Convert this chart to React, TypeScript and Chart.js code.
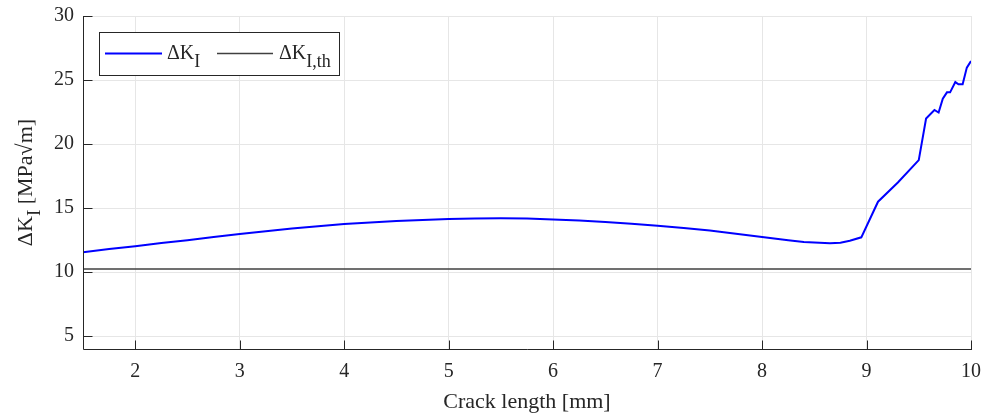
import React, { useEffect, useRef } from 'react';
import { Chart, registerables } from 'chart.js';

Chart.register(...registerables);

// ---- data ----
const crackLength = [
  1.5, 1.75, 2.0, 2.25, 2.5, 2.75, 3.0, 3.25, 3.5, 3.75, 4.0, 4.25, 4.5, 4.75, 5.0,
  5.25, 5.5, 5.75, 6.0, 6.25, 6.5, 6.75, 7.0, 7.25, 7.5, 7.75, 8.0, 8.25, 8.4, 8.55,
  8.65, 8.75, 8.84, 8.95, 9.11, 9.3, 9.5, 9.57, 9.65, 9.69, 9.73, 9.77, 9.8, 9.85,
  9.88, 9.92, 9.96, 10.0,
];
const deltaK = [
  11.56, 11.8, 12.03, 12.27, 12.5, 12.74, 12.98, 13.19, 13.4, 13.59, 13.76, 13.88, 13.99, 14.08, 14.15,
  14.19, 14.2, 14.18, 14.12, 14.03, 13.91, 13.78, 13.63, 13.45, 13.25, 13.0, 12.74, 12.49, 12.36, 12.29,
  12.26, 12.3, 12.45, 12.72, 15.5, 17.0, 18.75, 22.0, 22.66, 22.46, 23.55, 24.04, 24.04, 24.84,
  24.67, 24.67, 25.97, 26.48,
];
const thresholdLength = [1.5, 10];
const thresholdK = [10.25, 10.25];

const xTicks = [2, 3, 4, 5, 6, 7, 8, 9, 10];
const yTicks = [5, 10, 15, 20, 25, 30];
const xMin = 1.5;
const xMax = 10;
const yMin = 4;
const yMax = 30;

const xTitle = 'Crack length [mm]';
const yTitleMain = 'ΔK';
const yTitleSub = 'I';
const yTitleRest = ' [MPa√m]';
const legendMain = ['ΔK', 'ΔK'];
const legendSub = ['I', 'I,th'];

// ---- styles ----
const FONT = '"Liberation Serif", "Times New Roman", Times, serif';
const TEXT = '#262626';
const BLUE = '#0000ff';
const GRAY = '#404040';
const GRID = '#e6e6e6';

const matlabPlugin = {
  id: 'matlabDecor',
  afterDraw(chart: any) {
    const { ctx, chartArea: a, scales } = chart;
    const xs = scales.x;
    const ys = scales.y;
    ctx.save();

    // axis lines
    ctx.strokeStyle = TEXT;
    ctx.lineWidth = 1;
    ctx.beginPath();
    const L = Math.round(a.left) + 0.5;
    const B = Math.round(a.bottom) + 0.5;
    ctx.moveTo(L, Math.round(a.top));
    ctx.lineTo(L, B);
    ctx.lineTo(Math.round(a.right) + 1, B);
    ctx.stroke();

    // inward tick marks
    const tl = 9;
    ctx.beginPath();
    xTicks.forEach((v) => {
      const px = Math.round(xs.getPixelForValue(v)) + 0.5;
      ctx.moveTo(px, B);
      ctx.lineTo(px, B - tl);
    });
    yTicks.forEach((v) => {
      const py = Math.round(ys.getPixelForValue(v)) + 0.5;
      ctx.moveTo(L, py);
      ctx.lineTo(L + tl, py);
    });
    ctx.stroke();

    // legend
    const lx = 99, ly = 32, lw = 240, lh = 43;
    ctx.fillStyle = '#ffffff';
    ctx.fillRect(lx, ly, lw, lh);
    ctx.strokeStyle = TEXT;
    ctx.lineWidth = 1;
    ctx.strokeRect(lx + 0.5, ly + 0.5, lw, lh);

    const entries = [
      { x0: 105, x1: 162, tx: 167, color: BLUE, width: 2 },
      { x0: 217, x1: 273, tx: 279, color: GRAY, width: 1.5 },
    ];
    const lineY = 53.5;
    const baseY = 59;
    entries.forEach((e, i) => {
      ctx.strokeStyle = e.color;
      ctx.lineWidth = e.width;
      ctx.beginPath();
      ctx.moveTo(e.x0, lineY);
      ctx.lineTo(e.x1, lineY);
      ctx.stroke();
      ctx.fillStyle = TEXT;
      ctx.textAlign = 'left';
      ctx.textBaseline = 'alphabetic';
      ctx.font = `20px ${FONT}`;
      ctx.fillText(legendMain[i], e.tx, baseY);
      const w = ctx.measureText(legendMain[i]).width;
      ctx.font = `18px ${FONT}`;
      ctx.fillText(legendSub[i], e.tx + w, baseY + 8);
    });

    // x title
    ctx.fillStyle = TEXT;
    ctx.font = `22px ${FONT}`;
    ctx.textAlign = 'center';
    ctx.textBaseline = 'alphabetic';
    ctx.fillText(xTitle, (a.left + a.right) / 2, 408);

    // y title (rotated, with subscript)
    ctx.save();
    ctx.translate(32, (a.top + a.bottom) / 2);
    ctx.rotate(-Math.PI / 2);
    ctx.textAlign = 'left';
    ctx.font = `22px ${FONT}`;
    const w1 = ctx.measureText(yTitleMain).width;
    const w3 = ctx.measureText(yTitleRest).width;
    ctx.font = `19px ${FONT}`;
    const w2 = ctx.measureText(yTitleSub).width;
    let x = -(w1 + w2 + w3) / 2;
    ctx.font = `22px ${FONT}`;
    ctx.fillText(yTitleMain, x, 0);
    x += w1;
    ctx.font = `19px ${FONT}`;
    ctx.fillText(yTitleSub, x, 8);
    x += w2;
    ctx.font = `22px ${FONT}`;
    ctx.fillText(yTitleRest, x, 0);
    ctx.restore();

    ctx.restore();
  },
};

export default function App() {
  const canvasRef = useRef<HTMLCanvasElement | null>(null);

  useEffect(() => {
    document.body.style.margin = '0';
    const canvas = canvasRef.current;
    if (!canvas) return;
    const chart = new Chart(canvas, {
      type: 'line',
      data: {
        datasets: [
          {
            label: 'ΔK_I',
            data: crackLength.map((c, i) => ({ x: c, y: deltaK[i] })),
            borderColor: BLUE,
            borderWidth: 2,
            pointRadius: 0,
            tension: 0,
            fill: false,
          },
          {
            label: 'ΔK_I,th',
            data: thresholdLength.map((c, i) => ({ x: c, y: thresholdK[i] })),
            borderColor: GRAY,
            borderWidth: 1.5,
            pointRadius: 0,
            tension: 0,
            fill: false,
          },
        ],
      },
      options: {
        animation: false,
        responsive: false,
        devicePixelRatio: 1,
        layout: { padding: { top: 16, right: 14, left: 0, bottom: 0 } },
        plugins: {
          legend: { display: false },
          tooltip: { enabled: false },
        },
        scales: {
          x: {
            type: 'linear',
            min: xMin,
            max: xMax,
            afterBuildTicks: (scale: any) => {
              scale.ticks = xTicks.map((v) => ({ value: v }));
            },
            afterFit: (scale: any) => {
              scale.height = 65;
              scale.paddingLeft = 0;
              scale.paddingRight = 0;
            },
            grid: { color: GRID, lineWidth: 1, drawTicks: false },
            border: { display: false },
            ticks: {
              color: TEXT,
              font: { family: FONT, size: 20 },
              padding: 11,
              maxRotation: 0,
              autoSkip: false,
            },
          },
          y: {
            type: 'linear',
            min: yMin,
            max: yMax,
            afterBuildTicks: (scale: any) => {
              scale.ticks = yTicks.map((v) => ({ value: v }));
            },
            afterFit: (scale: any) => {
              scale.width = 83;
              scale.paddingTop = 0;
              scale.paddingBottom = 0;
            },
            grid: { color: GRID, lineWidth: 1, drawTicks: false },
            border: { display: false },
            ticks: {
              color: TEXT,
              font: { family: FONT, size: 20 },
              padding: 9,
              autoSkip: false,
            },
          },
        },
      },
      plugins: [matlabPlugin],
    });
    return () => chart.destroy();
  }, []);

  return (
    <div style={{ position: 'absolute', left: 0, top: 0, width: 985, height: 414 }}>
      <canvas ref={canvasRef} width={985} height={414} style={{ display: 'block' }} />
    </div>
  );
}
